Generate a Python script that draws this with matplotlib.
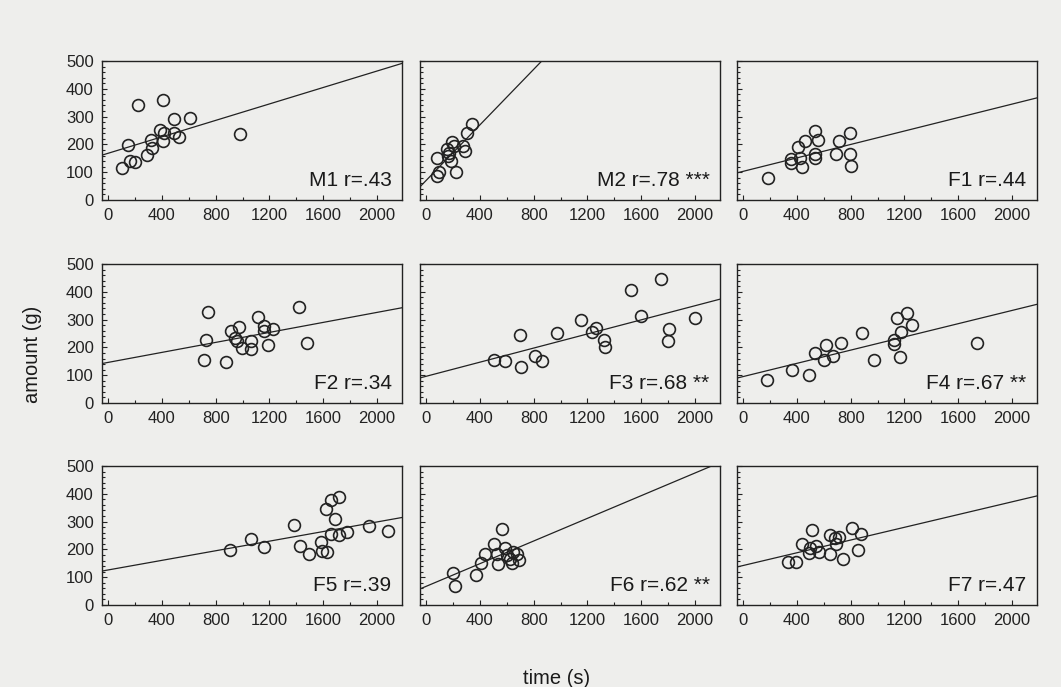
import numpy as np
import matplotlib
matplotlib.use('Agg')
import matplotlib.pyplot as plt
from matplotlib.ticker import MultipleLocator

plt.rcParams['font.family'] = ['Liberation Sans', 'DejaVu Sans']

# panel names and labels
names = ['M1', 'M2', 'F1', 'F2', 'F3', 'F4', 'F5', 'F6', 'F7']
labels = ['M1 r=.43', 'M2 r=.78 ***', 'F1 r=.44',
          'F2 r=.34', 'F3 r=.68 **', 'F4 r=.67 **',
          'F5 r=.39', 'F6 r=.62 **', 'F7 r=.47']

# time (s) / amount (g)
m1_t = [100, 162, 200, 150, 220, 287, 317, 325, 387, 412, 412, 487, 487, 525, 612, 982, 417]
m1_a = [114, 139, 135, 199, 340, 163, 217, 187, 253, 214, 361, 293, 241, 225, 295, 239, 241]
m2_t = [81, 94, 81, 152, 162, 195, 207, 182, 220, 271, 288, 304, 342, 170]
m2_a = [87, 102, 151, 183, 159, 207, 193, 142, 99, 193, 177, 241, 274, 169]
f1_t = [186, 355, 360, 409, 422, 439, 459, 538, 560, 538, 538, 694, 712, 794, 794, 806]
f1_a = [78, 146, 132, 189, 150, 120, 213, 249, 215, 165, 150, 167, 212, 242, 167, 122]
f2_t = [712, 730, 745, 880, 912, 942, 975, 957, 995, 1062, 1062, 1112, 1162, 1157, 1225, 1192, 1420, 1482]
f2_a = [154, 226, 326, 146, 258, 234, 274, 222, 197, 222, 194, 310, 276, 258, 266, 210, 346, 216]
f3_t = [508, 588, 708, 695, 808, 865, 975, 1150, 1233, 1263, 1320, 1333, 1525, 1600, 1750, 1803, 1795, 2000]
f3_a = [153, 152, 129, 245, 170, 151, 251, 300, 257, 269, 227, 203, 407, 312, 446, 265, 224, 306]
f4_t = [180, 362, 487, 537, 605, 617, 667, 730, 885, 975, 1122, 1122, 1148, 1168, 1172, 1218, 1255, 1738]
f4_a = [82, 118, 100, 180, 156, 210, 168, 216, 253, 154, 226, 211, 307, 166, 256, 324, 282, 216]
f5_t = [905, 1063, 1157, 1379, 1424, 1492, 1580, 1588, 1625, 1618, 1656, 1688, 1656, 1714, 1719, 1774, 1943, 2082]
f5_a = [198, 238, 207, 289, 211, 185, 228, 195, 192, 344, 378, 311, 254, 387, 253, 262, 284, 265]
f6_t = [200, 218, 370, 408, 438, 508, 525, 533, 563, 588, 600, 625, 638, 650, 688, 675]
f6_a = [115, 70, 109, 152, 182, 218, 182, 148, 273, 206, 179, 167, 152, 191, 163, 184]
f7_t = [333, 393, 438, 488, 500, 513, 545, 563, 645, 650, 680, 688, 713, 743, 813, 858, 875]
f7_a = [153, 153, 219, 186, 204, 269, 214, 190, 253, 183, 241, 219, 243, 164, 277, 198, 256]

times = [m1_t, m2_t, f1_t, f2_t, f3_t, f4_t, f5_t, f6_t, f7_t]
amounts = [m1_a, m2_a, f1_a, f2_a, f3_a, f4_a, f5_a, f6_a, f7_a]

# regression lines as printed
intercepts = [168, 70, 103, 146, 96, 95, 126, 67, 142]
slopes = [0.148, 0.50, 0.121, 0.090, 0.127, 0.119, 0.0864, 0.204, 0.1146]

bg = '#eeeeec'
fig = plt.figure(figsize=(10.61, 6.87), dpi=100, facecolor=bg)

W, H = 1061., 687.
lefts = [102, 420, 737]
bottoms = [200, 403, 605]
aw, ah = 300, 139

for k in range(9):
    r, c = divmod(k, 3)
    ax = fig.add_axes([lefts[c] / W, 1 - bottoms[r] / H, aw / W, ah / H])
    ax.set_facecolor(bg)
    xl = (-45, 2185)
    ax.set_xlim(xl)
    ax.set_ylim(0, 500)
    xx = np.array(xl)
    ax.plot(xx, intercepts[k] + slopes[k] * xx, color='#222222', lw=0.9)
    ax.plot(times[k], amounts[k], 'o', mfc='none', mec='#222222', ms=8.5, mew=1.2)
    ax.text(0.965, 0.07, labels[k], transform=ax.transAxes, ha='right', va='bottom',
            fontsize=15, color='#1a1a1a')
    ax.xaxis.set_major_locator(MultipleLocator(400))
    ax.xaxis.set_minor_locator(MultipleLocator(200))
    ax.yaxis.set_major_locator(MultipleLocator(100))
    ax.yaxis.set_minor_locator(MultipleLocator(20))
    ax.tick_params(which='both', direction='in', top=False, right=False,
                   labelsize=12, colors='#222222', width=0.8)
    ax.tick_params(which='major', length=3.5, pad=6)
    ax.tick_params(which='minor', length=2.5)
    if c != 0:
        ax.tick_params(labelleft=False)
    for s in ax.spines.values():
        s.set_linewidth(1.0)
        s.set_color('#222222')

fig.text(33 / W, 1 - 354 / H, 'amount (g)', rotation=90, ha='center', va='center',
         fontsize=14.5, color='#1a1a1a')
fig.text(557 / W, 1 - 678 / H, 'time (s)', ha='center', va='center',
         fontsize=14.5, color='#1a1a1a')

fig.savefig('out.png', dpi=100, facecolor=bg)
